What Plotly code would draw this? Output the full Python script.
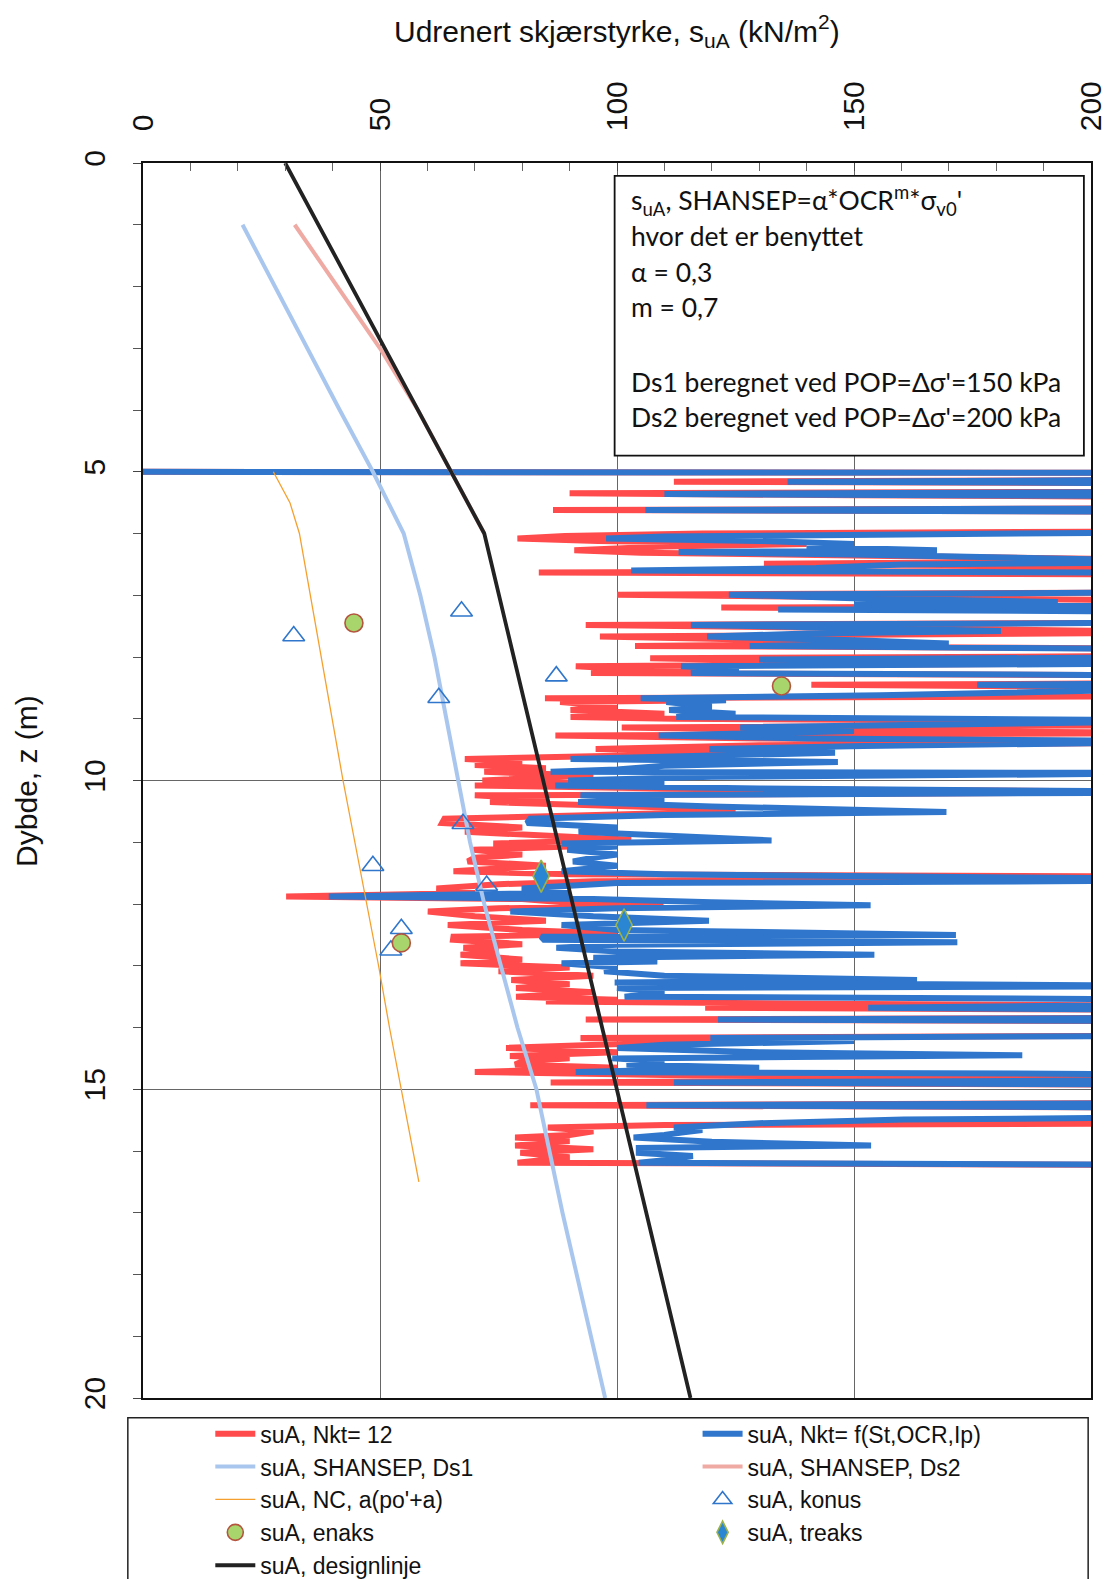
import plotly.graph_objects as go

# ---------------- data ----------------
red_z = [5.00, 5.02, 5.13, 5.16, 5.19, 5.32, 5.35, 5.38, 5.41, 5.59, 5.62, 5.65, 5.96, 6.00, 6.04, 6.08, 6.12, 6.17,
         6.21, 6.27, 6.31, 6.36, 6.44, 6.49, 6.54, 6.60, 6.63, 6.67, 6.95, 6.99, 7.03, 7.10, 7.17, 7.20, 7.24, 7.44,
         7.48, 7.53, 7.60, 7.64, 7.67, 7.72, 7.78, 7.82, 7.87, 7.98, 8.02, 8.06, 8.10, 8.13, 8.15, 8.19, 8.22, 8.26,
         8.30, 8.42, 8.45, 8.50, 8.63, 8.67, 8.70, 8.73, 8.80, 8.86, 8.92, 8.97, 9.00, 9.05, 9.10, 9.14, 9.19, 9.23,
         9.25, 9.27, 9.32, 9.38, 9.43, 9.49, 9.55, 9.60, 9.65, 9.70, 9.75, 9.80, 9.86, 9.92, 10.00, 10.04, 10.08,
         10.13, 10.19, 10.24, 10.30, 10.35, 10.42, 10.47, 10.53, 10.58, 10.62, 10.69, 10.76, 10.83, 10.90, 10.96,
         11.02, 11.07, 11.12, 11.20, 11.25, 11.31, 11.38, 11.47, 11.52, 11.56, 11.60, 11.63, 11.68, 11.75, 11.82,
         11.88, 11.92, 11.98, 12.02, 12.07, 12.12, 12.20, 12.27, 12.34, 12.42, 12.48, 12.53, 12.58, 12.65, 12.71,
         12.77, 12.82, 12.90, 12.96, 13.03, 13.09, 13.16, 13.23, 13.30, 13.36, 13.43, 13.50, 13.55, 13.58, 13.62,
         13.65, 13.68, 13.72, 13.84, 13.87, 13.90, 14.13, 14.17, 14.22, 14.28, 14.33, 14.40, 14.46, 14.50, 14.55,
         14.60, 14.65, 14.72, 14.77, 14.82, 14.86, 14.89, 14.93, 15.22, 15.26, 15.30, 15.55, 15.58, 15.62, 15.68,
         15.74, 15.78, 15.84, 15.91, 15.97, 16.03, 16.10, 16.15, 16.19, 16.23]
red_su = [-5, 230, 230, 112, 230, 230, 90, 150, 230, 230, 86.5, 230, 230, 118, 89, 79, 96, 140,
          110, 91, 105, 150, 230, 131, 230, 230, 83.5, 230, 230, 100, 140, 230, 230, 122, 230, 230,
          93.4, 150, 230, 150, 96.4, 130, 160, 103.8, 230, 230, 107, 132, 230, 130, 91.3, 101, 120, 94.5,
          230, 230, 141, 230, 230, 84.8, 120, 88, 100, 90.2, 110, 90.2, 112, 230, 230, 101, 140, 230,
          120, 87, 130, 230, 130, 95.5, 130, 100, 67.9, 80, 70, 85, 72, 95, 71.6, 90, 70,
          110, 230, 70, 85, 73.2, 100, 125, 110, 80, 63.6, 63.1, 80, 67.9, 90, 103,
          73.9, 90, 69.7, 80, 70, 68.5, 85, 65.5, 90, 230, 230, 95, 75, 61.9, 70,
          30.2, 80, 90, 109.8, 75, 60.1, 70, 85, 64.3, 80, 100, 65.5, 65.4, 80, 67.6,
          75, 67, 80, 67, 90, 75, 95, 77.7, 90, 78.7, 95, 78.7, 100, 85, 152,
          230, 118.6, 230, 230, 93.4, 230, 230, 92.3, 120, 95, 76.6, 100, 77.4, 90, 80,
          78.5, 100, 70, 110, 230, 120, 86, 230, 230, 81.7, 230, 230, 110, 85.4, 95,
          90, 78.5, 90, 78.5, 95, 79.6, 90, 85, 79, 230]

blue_z = [5.00, 5.02, 5.13, 5.16, 5.19, 5.32, 5.36, 5.40, 5.59, 5.62, 5.65, 5.97, 6.01, 6.05, 6.08, 6.12, 6.17,
          6.22, 6.27, 6.30, 6.34, 6.40, 6.46, 6.50, 6.56, 6.60, 6.64, 6.95, 6.99, 7.05, 7.11, 7.15, 7.19, 7.23,
          7.27, 7.44, 7.48, 7.53, 7.58, 7.62, 7.67, 7.73, 7.78, 7.82, 7.88, 8.00, 8.04, 8.10, 8.13, 8.15, 8.19,
          8.23, 8.26, 8.30, 8.42, 8.45, 8.50, 8.62, 8.67, 8.70, 8.73, 8.80, 8.86, 8.92, 8.97, 9.03, 9.10, 9.14,
          9.20, 9.27, 9.32, 9.37, 9.44, 9.49, 9.55, 9.60, 9.65, 9.70, 9.76, 9.82, 9.86, 9.88, 9.94, 10.00, 10.04,
          10.08, 10.13, 10.19, 10.24, 10.30, 10.35, 10.42, 10.51, 10.56, 10.62, 10.69, 10.76, 10.83, 10.90, 10.97,
          11.02, 11.07, 11.12, 11.20, 11.25, 11.31, 11.38, 11.47, 11.52, 11.55, 11.60, 11.62, 11.66, 11.75, 11.82,
          11.88, 11.92, 11.97, 12.02, 12.07, 12.12, 12.20, 12.27, 12.34, 12.42, 12.50, 12.53, 12.58, 12.62, 12.66,
          12.71, 12.77, 12.82, 12.87, 12.93, 12.96, 13.03, 13.09, 13.16, 13.23, 13.27, 13.33, 13.36, 13.43, 13.50,
          13.55, 13.62, 13.68, 13.72, 13.84, 13.87, 13.90, 14.13, 14.17, 14.22, 14.28, 14.33, 14.40, 14.45, 14.50,
          14.55, 14.60, 14.65, 14.72, 14.76, 14.85, 14.89, 14.93, 15.22, 15.26, 15.30, 15.45, 15.49, 15.55, 15.62,
          15.66, 15.70, 15.74, 15.78, 15.85, 15.91, 15.95, 16.03, 16.08, 16.15, 16.19, 16.23]
blue_su = [-5, 230, 230, 136, 230, 230, 110, 230, 230, 106, 230, 230, 145, 110, 97.7, 130, 150,
           140, 167.5, 113, 150, 230, 230, 160, 142, 103, 230, 230, 123.6, 150, 193, 150, 230, 134,
           230, 230, 115.6, 150, 181, 140, 119, 150, 170, 128, 230, 230, 130, 230, 140, 113.5, 125.7,
           118, 115.6, 230, 230, 176, 230, 155.6, 105, 123, 110.4, 120, 111, 125, 112.5, 230, 164.7, 126,
           150, 108.8, 140, 230, 152, 119.5, 146, 120, 90.2, 146.6, 110, 100, 86, 230, 120, 89.7, 110,
           87, 130, 230, 92.3, 110, 91.8, 120, 169.5, 110, 81.7, 81, 100, 91.9, 110, 132.6,
           88.3, 100, 89.5, 100, 95, 90.7, 100, 88.3, 110, 230, 230, 230, 100, 79.9, 90,
           39.2, 95, 120, 153.5, 100, 77.5, 95, 119.4, 88.3, 100, 171.5, 84, 84.6, 171.8, 100,
           87.2, 100, 154.3, 95, 108.5, 88.3, 100, 97.3, 110, 163.3, 99.5, 230, 100, 110, 101.6,
           230, 230, 153, 230, 230, 121.3, 230, 230, 119.7, 150, 110, 100, 130, 185.5, 99,
           110, 102, 130, 91.3, 230, 230, 112, 230, 230, 106.2, 230, 230, 160.5, 130, 112,
           118, 113.6, 110, 103.5, 120, 153.6, 104.6, 104.6, 116, 110, 104.6, 230]

ds1_z = [1, 2, 3, 4, 5, 6, 7, 8, 9, 10, 11, 12, 13, 14, 15, 16, 17, 18, 19, 20]
ds1_su = [21, 27.8, 34.6, 41.5, 48.5, 55, 58.5, 61.5, 64, 66.6, 69, 72, 75.5, 79, 83, 85.7, 88.5, 91.5, 94.5, 97.5]

ds2_z = [1, 2, 3, 4, 5, 6]
ds2_su = [32, 41, 50, 58, 65, 72]

nc_z = [5, 5.5, 6, 7, 8, 9, 10, 11, 12, 13, 14, 15, 16, 16.5]
nc_su = [27.5, 31, 33, 35.3, 37.5, 39.8, 42.2, 44.7, 47.2, 49.7, 52, 54.5, 57, 58.2]

konus_z = [7.66, 7.26, 8.31, 8.66, 10.70, 11.38, 11.70, 12.40, 12.75]
konus_su = [31.8, 67.2, 87.2, 62.4, 67.5, 48.5, 72.5, 54.5, 52.3]

enaks_z = [7.45, 8.47, 12.63]
enaks_su = [44.5, 134.7, 54.5]

treaks_z = [11.55, 12.34]
treaks_su = [84.0, 101.5]

design_z = [0, 6, 20]
design_su = [30, 72, 115.5]

x_ticks = [0, 50, 100, 150, 200]
y_ticks = [0, 5, 10, 15, 20]

box_lines = [
    "s<sub>uA</sub>, SHANSEP=α*OCR<sup>m</sup>*σ<sub>v0</sub>'",
    "hvor det er benyttet",
    "α = 0,3",
    "m = 0,7",
    "Ds1 beregnet ved POP=Δσ'=150 kPa",
    "Ds2 beregnet ved POP=Δσ'=200 kPa",
]
box_line_z = [0.61, 1.19, 1.76, 2.33, 3.54, 4.12]

# ---------------- figure ----------------
RED = "#ff4b4b"
BLUE = "#2f76cc"
LBLUE = "#a9c7ee"
PINK = "#efaaa4"
ORANGE = "#f5a02e"

fig = go.Figure()
fig.add_trace(go.Scatter(x=red_su, y=red_z, mode="lines", name="suA, Nkt= 12", legend="legend",
                         line=dict(color=RED, width=6)))
fig.add_trace(go.Scatter(x=blue_su, y=blue_z, mode="lines", name="suA, Nkt= f(St,OCR,Ip)", legend="legend2",
                         line=dict(color=BLUE, width=6)))
fig.add_trace(go.Scatter(x=ds1_su, y=ds1_z, mode="lines", name="suA, SHANSEP, Ds1", legend="legend",
                         line=dict(color=LBLUE, width=4)))
fig.add_trace(go.Scatter(x=ds2_su, y=ds2_z, mode="lines", name="suA, SHANSEP, Ds2", legend="legend2",
                         line=dict(color=PINK, width=4)))
fig.add_trace(go.Scatter(x=nc_su, y=nc_z, mode="lines", name="suA, NC, a(po'+a)", legend="legend",
                         line=dict(color=ORANGE, width=1.3)))
fig.add_trace(go.Scatter(x=konus_su, y=konus_z, mode="markers", name="suA, konus", legend="legend2",
                         marker=dict(symbol="triangle-up-open", size=19, color=BLUE,
                                     line=dict(color=BLUE, width=1.6))))
fig.add_trace(go.Scatter(x=enaks_su, y=enaks_z, mode="markers", name="suA, enaks", legend="legend",
                         marker=dict(symbol="circle", size=18, color="#a8d66c",
                                     line=dict(color="#b4553f", width=1.6))))
fig.add_trace(go.Scatter(x=treaks_su, y=treaks_z, mode="markers", name="suA, treaks", legend="legend2",
                         marker=dict(symbol="diamond-tall", size=23, color="#2a86d2",
                                     line=dict(color="#9bb24a", width=1.6))))
fig.add_trace(go.Scatter(x=design_su, y=design_z, mode="lines", name="suA, designlinje", legend="legend",
                         line=dict(color="#222222", width=3.8)))

FONT = "Liberation Sans, Arial, sans-serif"

fig.update_xaxes(
    side="top", range=[0, 200], tickvals=x_ticks, tickangle=-90,
    tickfont=dict(family=FONT, size=30, color="#111"),
    showgrid=True, gridcolor="#666", gridwidth=1,
    showline=True, linecolor="#111", linewidth=1.5, mirror=True,
    ticks="inside", ticklen=8, tickcolor="#444", ticklabelstandoff=24,
    minor=dict(dtick=10, ticks="inside", ticklen=8, tickcolor="#666", showgrid=False),
    zeroline=False,
)
fig.update_yaxes(
    range=[20, 0], tickvals=y_ticks, tickangle=-90,
    tickfont=dict(family=FONT, size=30, color="#111"),
    showgrid=True, gridcolor="#666", gridwidth=1,
    showline=True, linecolor="#111", linewidth=2, mirror=True,
    ticks="outside", ticklen=8, tickcolor="#444", ticklabelstandoff=16,
    minor=dict(dtick=1, ticks="outside", ticklen=8, tickcolor="#555", showgrid=False),
    zeroline=False,
)

annotations = [
    dict(text="Udrenert skjærstyrke, s<sub>uA</sub> (kN/m<sup>2</sup>)", xref="paper", yref="paper",
         x=0.5, y=1.107, xanchor="center", yanchor="middle", showarrow=False,
         font=dict(family=FONT, size=30, color="#111")),
    dict(text="Dybde, z (m)", xref="paper", yref="paper", x=-0.123, y=0.5, textangle=-90,
         xanchor="center", yanchor="middle", showarrow=False,
         font=dict(family=FONT, size=30, color="#111")),
]
for t, zz in zip(box_lines, box_line_z):
    annotations.append(dict(text=t, xref="x", yref="y", x=102.5, y=zz, xanchor="left", yanchor="middle",
                            showarrow=False, font=dict(family="Lato, Carlito, sans-serif", size=26.5, color="#111")))

shapes = [
    dict(type="rect", xref="x", yref="y", x0=99.5, x1=198.5, y0=0.21, y1=4.74,
         line=dict(color="#111", width=1.8), fillcolor="white", layer="above"),
    dict(type="rect", xref="paper", yref="paper", x0=-0.016, x1=0.997, y0=-0.149, y1=-0.016,
         line=dict(color="#222", width=1.5), fillcolor="rgba(0,0,0,0)"),
]

leg_common = dict(orientation="v", xanchor="left", yanchor="top", traceorder="normal",
                  font=dict(family=FONT, size=23, color="#111"),
                  bgcolor="rgba(0,0,0,0)", borderwidth=0, itemwidth=40)

fig.update_layout(
    width=1115, height=1579,
    margin=dict(l=135, r=32, t=155, b=189, autoexpand=False),
    paper_bgcolor="white", plot_bgcolor="white",
    showlegend=True,
    legend=dict(x=0.071, y=-0.0115, **leg_common),
    legend2=dict(x=0.585, y=-0.0115, **leg_common),
    annotations=annotations,
    shapes=shapes,
)

fig.write_html("out.html")
